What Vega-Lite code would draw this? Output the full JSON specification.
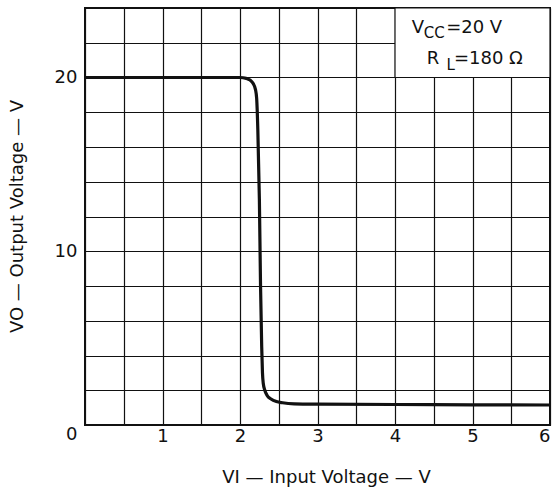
{
  "$schema": "https://vega.github.io/schema/vega-lite/v6.json",
  "width": 465,
  "height": 417,
  "autosize": {"type": "none"},
  "padding": {"left": 85, "top": 8, "right": 6, "bottom": 69},
  "background": "white",
  "config": {
    "view": {"stroke": "#111", "strokeWidth": 2},
    "font": "DejaVu Sans",
    "axis": {
      "domain": false,
      "ticks": false,
      "grid": true,
      "gridColor": "#111",
      "gridWidth": 1.2,
      "gridOpacity": 1,
      "labelFont": "DejaVu Sans",
      "labelFontSize": 18,
      "labelColor": "#111",
      "titleFont": "DejaVu Sans",
      "titleFontSize": 18,
      "titleFontWeight": "normal",
      "titleColor": "#111"
    }
  },
  "layer": [
    {
      "data": {"values": [
        {"vi": 0, "vo": 20}, {"vi": 1.0, "vo": 20}, {"vi": 1.5, "vo": 20}, {"vi": 2.0, "vo": 20},
        {"vi": 2.08, "vo": 19.95}, {"vi": 2.13, "vo": 19.85}, {"vi": 2.17, "vo": 19.65},
        {"vi": 2.2, "vo": 19.3}, {"vi": 2.215, "vo": 18.8}, {"vi": 2.23, "vo": 17},
        {"vi": 2.25, "vo": 13}, {"vi": 2.265, "vo": 8}, {"vi": 2.28, "vo": 4.5},
        {"vi": 2.29, "vo": 3}, {"vi": 2.30, "vo": 2.4}, {"vi": 2.32, "vo": 2.0},
        {"vi": 2.35, "vo": 1.7}, {"vi": 2.4, "vo": 1.5}, {"vi": 2.47, "vo": 1.35},
        {"vi": 2.55, "vo": 1.28}, {"vi": 2.7, "vo": 1.22}, {"vi": 3.0, "vo": 1.2},
        {"vi": 4.0, "vo": 1.18}, {"vi": 5.0, "vo": 1.16}, {"vi": 6.0, "vo": 1.15}
      ]},
      "mark": {"type": "line", "color": "#111", "strokeWidth": 3.2, "interpolate": "monotone"},
      "encoding": {
        "x": {
          "field": "vi", "type": "quantitative",
          "scale": {"domain": [0, 6], "nice": false, "zero": false},
          "axis": {
            "values": [0, 0.5, 1, 1.5, 2, 2.5, 3, 3.5, 4, 4.5, 5, 5.5, 6],
            "tickCount": 40,
            "labelExpr": "(datum.value % 1 == 0 && datum.value != 0) ? format(datum.value, 'd') : ''",
            "labelPadding": 2,
            "labelBaseline": "top",
            "labelOverlap": false,
            "title": "VI — Input Voltage — V",
            "titleX": 241,
            "titleY": 57,
            "titleAlign": "center",
            "titleBaseline": "alphabetic"
          }
        },
        "y": {
          "field": "vo", "type": "quantitative",
          "scale": {"domain": [0, 24], "nice": false},
          "axis": {
            "values": [0, 2, 4, 6, 8, 10, 12, 14, 16, 18, 20, 22, 24],
            "tickCount": 40,
            "labelExpr": "datum.value % 10 == 0 ? format(datum.value, 'd') : ''",
            "labelPadding": 8,
            "labelOverlap": false,
            "labelBaseline": {"condition": {"test": "datum.value == 0", "value": "top"}, "value": "middle"},
            "title": "VO — Output Voltage — V",
            "titleAngle": 270,
            "titleX": -63,
            "titleY": 208,
            "titleAlign": "center",
            "titleBaseline": "alphabetic"
          }
        }
      }
    },
    {
      "data": {"values": [{"x1": 4, "x2": 6, "y1": 20, "y2": 24}]},
      "mark": {"type": "rect", "fill": "white", "stroke": "#111", "strokeWidth": 1.2},
      "encoding": {
        "x": {"field": "x1", "type": "quantitative"},
        "x2": {"field": "x2"},
        "y": {"field": "y1", "type": "quantitative"},
        "y2": {"field": "y2"}
      }
    },
    {
      "data": {"values": [
        {"t": "V", "x": 4.215, "y": 22.55},
        {"t": "=20 V", "x": 4.66, "y": 22.55},
        {"t": "R", "x": 4.41, "y": 20.78},
        {"t": "=180 Ω", "x": 4.76, "y": 20.78}
      ]},
      "mark": {"type": "text", "align": "left", "baseline": "alphabetic", "fontSize": 18, "color": "#111", "font": "DejaVu Sans"},
      "encoding": {
        "x": {"field": "x", "type": "quantitative"},
        "y": {"field": "y", "type": "quantitative"},
        "text": {"field": "t"}
      }
    },
    {
      "data": {"values": [
        {"t": "CC", "x": 4.37, "y": 22.27},
        {"t": "L", "x": 4.665, "y": 20.43}
      ]},
      "mark": {"type": "text", "align": "left", "baseline": "alphabetic", "fontSize": 15, "color": "#111", "font": "DejaVu Sans"},
      "encoding": {
        "x": {"field": "x", "type": "quantitative"},
        "y": {"field": "y", "type": "quantitative"},
        "text": {"field": "t"}
      }
    }
  ]
}
